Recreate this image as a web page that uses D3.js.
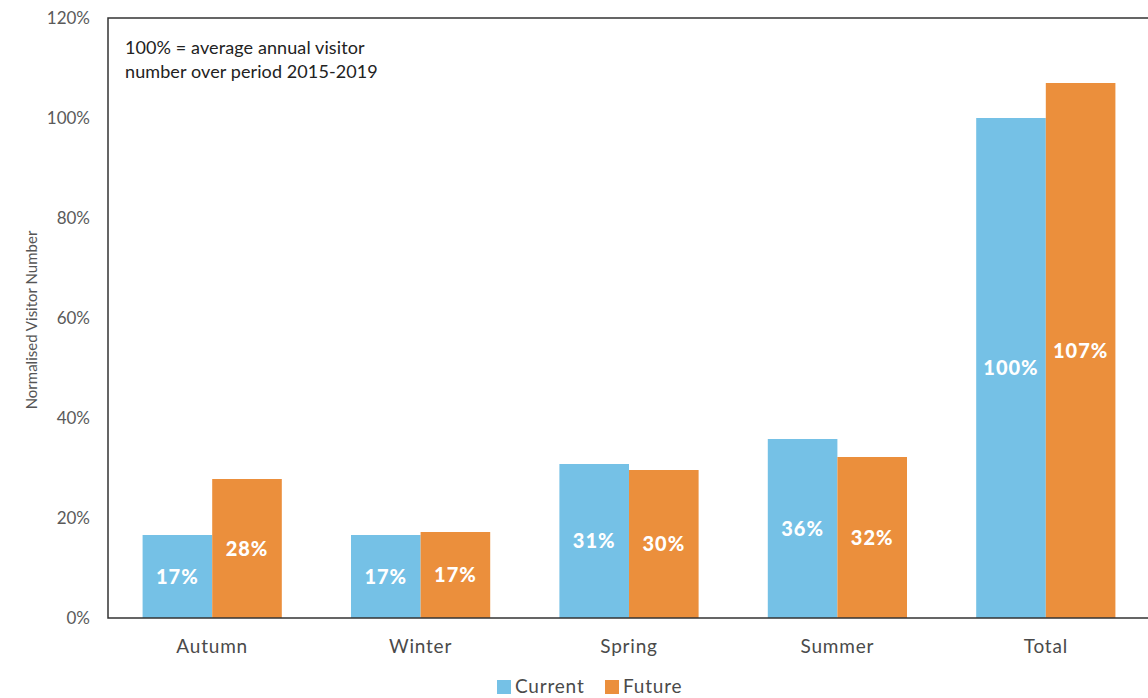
<!DOCTYPE html>
<html>
<head>
<meta charset="utf-8">
<script src="https://cdn.jsdelivr.net/npm/d3@7"></script>
<style>
  html, body { margin: 0; padding: 0; background: #fff; overflow: hidden; }
  svg { display: block; font-family: Lato, "Open Sans", sans-serif; }
</style>
</head>
<body>
<div id="chart"></div>
<script>
const categories = ["Autumn", "Winter", "Spring", "Summer", "Total"];
const seriesNames = ["Current", "Future"];
const currentValues = [16.6, 16.6, 30.8, 35.8, 100];
const futureValues = [27.8, 17.2, 29.6, 32.2, 107];
const currentLabels = ["17%", "17%", "31%", "36%", "100%"];
const futureLabels = ["28%", "17%", "30%", "32%", "107%"];
const yTicks = [0, 20, 40, 60, 80, 100, 120];
const colors = ["#75c1e6", "#eb8f3c"];

const W = 1148, H = 698;
const margin = { left: 108, top: 18, right: -2, bottom: 80 };

const svg = d3.select("#chart").append("svg")
  .attr("width", W).attr("height", H);

const x = d3.scaleBand()
  .domain(categories)
  .range([margin.left, W - margin.right])
  .paddingInner(0.332)
  .paddingOuter(0.166);

const xs = d3.scaleBand()
  .domain(seriesNames)
  .range([0, x.bandwidth()]);

const y = d3.scaleLinear()
  .domain([0, 120])
  .range([H - margin.bottom, margin.top]);

const rows = categories.map((c, i) => ({
  cat: c,
  vals: [
    { s: "Current", v: currentValues[i], label: currentLabels[i], color: colors[0] },
    { s: "Future", v: futureValues[i], label: futureLabels[i], color: colors[1] }
  ]
}));

// bars
const grp = svg.append("g").selectAll("g")
  .data(rows)
  .join("g")
  .attr("transform", d => `translate(${x(d.cat)},0)`);

grp.selectAll("rect")
  .data(d => d.vals)
  .join("rect")
  .attr("x", d => xs(d.s))
  .attr("width", xs.bandwidth())
  .attr("y", d => y(d.v))
  .attr("height", d => y(0) - y(d.v))
  .attr("fill", d => d.color);

grp.selectAll("text")
  .data(d => d.vals)
  .join("text")
  .attr("x", d => xs(d.s) + xs.bandwidth() / 2)
  .attr("y", d => (y(d.v) + y(0)) / 2)
  .attr("dy", "0.36em")
  .attr("text-anchor", "middle")
  .attr("fill", "#fff")
  .style("font-size", "20px")
  .style("font-weight", "900")
  .style("letter-spacing", "1px")
  .text(d => d.label);

// frame
svg.append("path")
  .attr("d", `M${W + 5},${margin.top}H${margin.left}V${y(0)}H${W + 5}`)
  .attr("fill", "none")
  .attr("stroke", "#333")
  .attr("stroke-width", 1.5);

// y axis
const yAxis = svg.append("g")
  .attr("transform", `translate(${margin.left},0)`)
  .call(d3.axisLeft(y).tickValues(yTicks).tickSize(0).tickPadding(18).tickFormat(d => d + "%"));
yAxis.select(".domain").remove();
yAxis.selectAll("text")
  .attr("fill", "#5a5a5a")
  .style("font-size", "17px")
  .style("font-weight", "400")
  .style("font-family", "Lato, sans-serif");

// x axis
const xAxis = svg.append("g")
  .attr("transform", `translate(0,${y(0)})`)
  .call(d3.axisBottom(x).tickSize(0).tickPadding(22));
xAxis.select(".domain").remove();
xAxis.selectAll("text")
  .attr("fill", "#4a4a4a")
  .style("font-size", "19px")
  .style("font-weight", "400")
  .style("letter-spacing", "0.8px")
  .style("font-family", "Lato, sans-serif");

// axis title
svg.append("text")
  .attr("transform", `translate(37,${(y(0) + y(120)) / 2 + 2}) rotate(-90)`)
  .attr("text-anchor", "middle")
  .attr("fill", "#555")
  .style("font-size", "15px")
  .style("font-weight", "400")
  .text("Normalised Visitor Number");

// note
const note = svg.append("text")
  .attr("x", 125)
  .attr("fill", "#222")
  .style("font-size", "18px")
  .style("font-weight", "400")
  .style("letter-spacing", "0.1px");
note.append("tspan").attr("x", 125).attr("y", 54).text("100% = average annual visitor");
note.append("tspan").attr("x", 125).attr("y", 78).text("number over period 2015-2019");

// legend
const legend = svg.append("g").attr("transform", `translate(497,${H - 5})`);
const li = legend.selectAll("g")
  .data(seriesNames)
  .join("g")
  .attr("transform", (d, i) => `translate(${i * 108},0)`);
li.append("rect")
  .attr("x", 0).attr("y", -13)
  .attr("width", 14).attr("height", 14)
  .attr("fill", (d, i) => colors[i]);
li.append("text")
  .attr("x", 18).attr("y", 0)
  .attr("fill", "#4a4a4a")
  .style("font-size", "19px")
  .style("font-weight", "400")
  .style("letter-spacing", "0.8px")
  .text(d => d);
</script>
</body>
</html>
